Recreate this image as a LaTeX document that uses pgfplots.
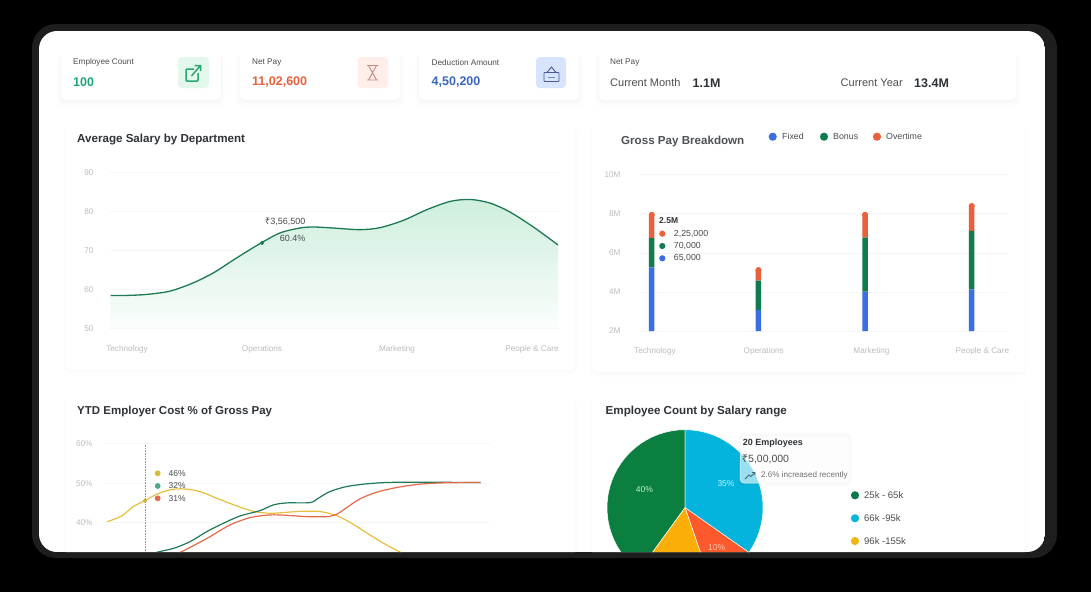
\documentclass[border=0pt]{standalone}
\usepackage{fontspec}
\setmainfont{Liberation Sans}
\newfontfamily\rup{Noto Sans}
\usepackage{pgfplots}
\usepackage{pgfplotstable}
\pgfplotsset{compat=1.18}
\definecolor{lab}{HTML}{BABCBE}
\definecolor{gridc}{HTML}{F4F5F5}
\definecolor{ttl}{HTML}{2F3337}
\definecolor{txt}{HTML}{4A4D50}
\definecolor{cRed}{HTML}{E9603C}
\definecolor{cGrn}{HTML}{0F7B4F}
\definecolor{cBlu}{HTML}{3B6FE0}
\definecolor{cYel}{HTML}{E8BE3C}
\definecolor{cLine}{HTML}{1E7A55}
\definecolor{kGrn}{HTML}{1FA574}
\definecolor{kBlu}{HTML}{3A68B8}
\definecolor{icA}{HTML}{E4F7EC}
\definecolor{icAs}{HTML}{2AA673}
\definecolor{icB}{HTML}{FFEEE9}
\definecolor{icBs}{HTML}{C98A7A}
\definecolor{icC}{HTML}{D8E4FB}
\definecolor{icCs}{HTML}{4A5A8F}
\definecolor{icCt}{HTML}{7C88B0}
\definecolor{arT}{HTML}{C6ECD8}
\definecolor{arB}{HTML}{FAFEFC}
\definecolor{rLine}{HTML}{E2694A}
\definecolor{d1}{HTML}{D9BC33}
\definecolor{d2}{HTML}{4FA88E}
\definecolor{pG}{HTML}{0A7F3F}
\definecolor{pC}{HTML}{04B4DC}
\definecolor{pR}{HTML}{FC5A2D}
\definecolor{pY}{HTML}{FCAE08}
\definecolor{tG}{HTML}{BDF2C8}
\definecolor{tC}{HTML}{BFF1FA}
\definecolor{tR}{HTML}{FFC4AE}
\definecolor{ttb}{HTML}{EEF0F2}
\definecolor{arr}{HTML}{3E6A75}
\definecolor{lG}{HTML}{0D7A4D}
\definecolor{lC}{HTML}{0AB5DC}
\definecolor{lY}{HTML}{F0B414}
\definecolor{frame}{HTML}{1E1E1E}
\newcommand{\fs}[1]{\fontsize{#1}{#1}\selectfont}
% KPI card: soft shadow, mostly below
\newcommand{\card}[4]{%
  \fill[black,opacity=.006,rounded corners=8] (#1-4,-#2-4) rectangle (#3+4,-#4-8);
  \fill[black,opacity=.008,rounded corners=7] (#1-2.5,-#2-4) rectangle (#3+2.5,-#4-5);
  \fill[black,opacity=.012,rounded corners=6] (#1-1,-#2-4) rectangle (#3+1,-#4-2.5);
  \fill[white,rounded corners=5] (#1,-#2) rectangle (#3,-#4);}
% big panel: even fainter
\newcommand{\panel}[4]{%
  \fill[black,opacity=.005,rounded corners=8] (#1-3,-#2-6) rectangle (#3+3,-#4-6);
  \fill[black,opacity=.007,rounded corners=7] (#1-1.5,-#2-6) rectangle (#3+1.5,-#4-3.5);
  \fill[black,opacity=.009,rounded corners=6] (#1-.5,-#2-6) rectangle (#3+.5,-#4-1.5);
  \fill[white,rounded corners=5] (#1,-#2) rectangle (#3,-#4);}
\newcommand{\txt}[5][west]{\node[anchor=#1,inner sep=0pt,text=#4] at (#2,-#3) {#5};}
\pgfplotstableread{
u v
-0.121 58.43
0.000 58.43
0.146 58.68
0.319 59.53
0.491 61.66
0.640 64.21
0.812 68.04
0.985 71.70
1.133 74.43
1.281 75.70
1.380 75.96
1.528 75.70
1.726 75.28
1.874 75.79
2.047 77.66
2.220 80.38
2.393 82.51
2.541 83.02
2.689 82.09
2.837 79.79
3.010 75.96
3.193 71.36
}\salary
\pgfplotsset{dash/.style={
  scale only axis, axis line style={draw=none}, major tick length=0pt,
  ymajorgrids=true, grid style={gridc,line width=.7pt},
  tick label style={text=lab,font=\fs{8.2}},
  /pgf/number format/assume math mode=true}}
\begin{document}
\begin{tikzpicture}[x=1pt,y=1pt]
\useasboundingbox (0,0) rectangle (1091,-592);
\fill[black] (0,0) rectangle (1091,-592);
\fill[frame,rounded corners=24] (32,-24) rectangle (1057,-558);
\begin{scope}
\clip[rounded corners=18] (39,-31) rectangle (1045,-552);
\fill[white] (39,-31) rectangle (1045,-552);
% panels
\panel{66}{118}{575}{370}
\panel{592}{120}{1025}{372}
\panel{66}{392}{575}{600}
\panel{592}{392}{1025}{600}
% KPI cards
\card{61}{49}{221}{100}
\card{240}{49}{400}{100}
\card{419}{49}{579}{100}
\card{599}{49}{1016}{100}
% card text
\txt{73}{62.5}{txt}{\fs{8.2}Employee Count}
\txt{73}{82.5}{kGrn}{\fs{12.5}\bfseries 100}
\txt{252}{62.5}{txt}{\fs{8.2}Net Pay}
\txt{252}{82.5}{cRed}{\fs{12.5}\bfseries 11,02,600}
\txt{431.5}{62.5}{txt}{\fs{8.2}Deduction Amount}
\txt{431.5}{82.5}{kBlu}{\fs{12.5}\bfseries 4,50,200}
\txt{610}{62.5}{txt}{\fs{8.2}Net Pay}
\txt{610}{83}{txt}{\fs{11}Current Month}
\txt{692.5}{83}{ttl}{\fs{12.5}\bfseries 1.1M}
\txt{840.5}{83}{txt}{\fs{11}Current Year}
\txt{914}{83}{ttl}{\fs{12.5}\bfseries 13.4M}
% icons
\fill[icA,rounded corners=4] (178,-57) rectangle (209,-88);
\draw[icAs,line width=1.5pt,rounded corners=1] (194,-69) -- (186,-69) -- (186,-81) -- (198,-81) -- (198,-73);
\draw[icAs,line width=1.5pt] (191.5,-76) -- (200.5,-65.5) (194.5,-65.5) -- (200.5,-65.5) -- (200.5,-71);
\fill[icB,rounded corners=4] (357.5,-57) rectangle (388,-88);
\draw[icBs,line width=.9pt] (367,-65.5) -- (378,-65.5) (367,-80) -- (378,-80) (368.5,-65.5) -- (376.5,-80) (376.5,-65.5) -- (368.5,-80);
\fill[icC,rounded corners=4] (536,-57) rectangle (566,-88);
\draw[icCs,line width=.9pt,rounded corners=.8] (544,-72.5) rectangle (559,-81.5);
\draw[icCs,line width=.9pt] (547,-72.5) -- (551.5,-67) -- (556,-72.5);
\draw[icCt,line width=.9pt] (548,-77) -- (555,-77);
% titles
\txt{77}{139.5}{ttl}{\fs{11.6}\bfseries Average Salary by Department}
\txt{621}{141}{ttl!85}{\fs{11.6}\bfseries Gross Pay Breakdown}
\txt{77}{411.5}{ttl}{\fs{11.5}\bfseries YTD Employer Cost \% of Gross Pay}
\txt{605.5}{411.5}{ttl}{\fs{11.6}\bfseries Employee Count by Salary range}
% --- Average salary
\begin{axis}[dash, at={(110pt,-328.3pt)}, anchor=south west, width=449pt, height=156.1pt,
  xmin=-0.126, xmax=3.2, ymin=50, ymax=90, ytick={50,60,70,80,90},
  xtick={0,1,2,3}, xticklabels={Technology,Operations,Marketing,People \& Care},
  yticklabel style={xshift=-13pt}, xticklabel style={yshift=-13.5pt}]
\addplot[draw=none, top color=arT, bottom color=arB, fill opacity=.85, smooth] table[x=u,y=v] {\salary} \closedcycle;
\addplot[cLine, line width=1.3pt, smooth] table[x=u,y=v] {\salary};
\addplot[only marks, mark=*, mark size=1.9pt, cLine] coordinates {(1.0,71.9)};
\end{axis}
\node[anchor=east,inner sep=0pt,text=txt] at (305.5,-222) {\fs{9}{\rup ₹}3,56,500};
\node[anchor=east,inner sep=0pt,text=txt] at (305.5,-238.7) {\fs{9}60.4\%};
% --- Gross pay
\begin{axis}[dash, at={(640pt,-331pt)}, anchor=south west, width=368pt, height=156.3pt,
  xmin=-0.11, xmax=3.34, ymin=2, ymax=10, ytick={2,4,6,8,10},
  yticklabel={\pgfmathprintnumber{\tick}M},
  xtick={0.03,1.05,2.06,3.10}, xticklabels={Technology,Operations,Marketing,People \& Care},
  yticklabel style={xshift=-16pt}, xticklabel style={yshift=-13.5pt},
  ybar stacked, bar width=5.5pt]
\addplot[fill=cBlu,draw=none] coordinates {(0,5.26) (1,3.08) (2,4.01) (3,4.13)};
\addplot[fill=cGrn,draw=none] coordinates {(0,1.50) (1,1.50) (2,2.77) (3,2.99)};
\addplot[fill=cRed,draw=none] coordinates {(0,1.19) (1,0.54) (2,1.17) (3,1.28)};
\end{axis}
\begin{axis}[at={(640pt,-331pt)}, anchor=south west, scale only axis, width=368pt, height=156.3pt,
  xmin=-0.11, xmax=3.34, ymin=2, ymax=10, hide axis]
\addplot[only marks, mark=*, mark size=2.75pt, cRed] coordinates {(0,7.95) (1,5.12) (2,7.95) (3,8.40)};
\end{axis}
% legend gross
\fill[cBlu] (772.7,-136.7) circle (4.1);
\txt{782}{136.7}{txt}{\fs{8.8}Fixed}
\fill[cGrn] (824,-136.7) circle (4.1);
\txt{833}{136.7}{txt}{\fs{8.8}Bonus}
\fill[cRed] (877,-136.7) circle (4.1);
\txt{886}{136.7}{txt}{\fs{8.8}Overtime}
\txt{659}{220.3}{ttl}{\fs{8.5}\bfseries 2.5M}
\fill[cRed] (662.3,-233.7) circle (3.1); \txt{673.7}{233.7}{txt}{\fs{8.8}2,25,000}
\fill[cGrn] (662.3,-246) circle (3.1); \txt{673.7}{246}{txt}{\fs{8.8}70,000}
\fill[cBlu] (662.3,-258.3) circle (3.1); \txt{673.7}{258.3}{txt}{\fs{8.8}65,000}
% --- YTD cost
\begin{axis}[dash, at={(105pt,-562.1pt)}, anchor=south west, width=385pt, height=118.4pt,
  xmin=105, xmax=490, ymin=30, ymax=60, ytick={40,50,60}, xtick=\empty,
  yticklabel={\pgfmathprintnumber{\tick}\%}, yticklabel style={xshift=-9pt}]
\addplot[cYel, line width=1.2pt, smooth] coordinates {(107.3,40.25) (121.7,41.69) (133.3,44.07) (145,45.59) (156.7,47.2) (170,48.31) (183.3,48.56) (200,47.88) (216.7,46.19) (236.7,44.24) (253.3,42.88) (270,42.37) (286.7,42.63) (303.3,42.88) (320,42.8) (336.7,41.78) (353.3,39.58) (370,36.86) (386.7,34.32) (400.7,32.46) (413.3,30.5)};
\addplot[cLine, line width=1.2pt, smooth] coordinates {(143.3,30.93) (156.7,32.46) (173.3,33.47) (190,35.17) (206.7,37.71) (223.3,39.83) (240,41.69) (260,43.05) (273.3,44.49) (286.7,45.0) (310,45.08) (318.3,46.19) (330,47.88) (346.7,49.15) (366.7,49.83) (386.7,50.17) (413.3,50.25) (480.7,50.17)};
\addplot[rLine, line width=1.2pt, smooth] coordinates {(163.3,30.93) (180,32.46) (193.3,34.15) (210,36.44) (230,39.41) (250,41.27) (270,41.95) (286.7,41.86) (306.7,41.53) (326.7,41.53) (336.7,42.12) (346.7,43.81) (360,46.02) (376.7,47.71) (396.7,48.9) (420,49.75) (443.3,50.08) (480.7,50.17)};
\addplot[only marks, mark=*, mark size=1.9pt, cYel!90!black] coordinates {(145,45.59)};
\addplot[black!40, densely dotted, line width=.6pt] coordinates {(145,30) (145,60)};
\end{axis}
\fill[d1] (157.7,-473.3) circle (2.9); \txt{168.5}{473.3}{txt}{\fs{8.5}46\%}
\fill[d2] (157.7,-486) circle (2.9); \txt{168.5}{486}{txt}{\fs{8.5}32\%}
\fill[rLine] (157.7,-498.3) circle (2.9); \txt{168.5}{498.3}{txt}{\fs{8.5}31\%}
% --- Pie
\begin{axis}[at={(607pt,-585.7pt)}, anchor=south west, scale only axis, width=156pt, height=156pt,
  xmin=-1, xmax=1, ymin=-1, ymax=1, hide axis]
\addplot[fill=pG, draw=white, line width=.5pt, data cs=polar] coordinates {(0,0) (90,1) (95,1) (100,1) (105,1) (110,1) (115,1) (120,1) (125,1) (130,1) (135,1) (140,1) (145,1) (150,1) (155,1) (160,1) (165,1) (170,1) (175,1) (180,1) (185,1) (190,1) (195,1) (200,1) (205,1) (210,1) (215,1) (220,1) (225,1) (230,1) (234,1) (0,0)};
\addplot[fill=pC, draw=white, line width=.5pt, data cs=polar] coordinates {(0,0) (90,1) (85,1) (80,1) (75,1) (70,1) (65,1) (60,1) (55,1) (50,1) (45,1) (40,1) (35,1) (30,1) (25,1) (20,1) (15,1) (10,1) (5,1) (0,1) (-5,1) (-10,1) (-15,1) (-20,1) (-25,1) (-30,1) (-35,1) (0,0)};
\addplot[fill=pR, draw=white, line width=.5pt, data cs=polar] coordinates {(0,0) (-35,1) (-40,1) (-45,1) (-50,1) (-55,1) (-60,1) (-65,1) (-71,1) (0,0)};
\addplot[fill=pY, draw=white, line width=.5pt, data cs=polar] coordinates {(0,0) (-71,1) (-75,1) (-80,1) (-85,1) (-90,1) (-95,1) (-100,1) (-105,1) (-110,1) (-115,1) (-120,1) (-126,1) (0,0)};
\end{axis}
\txt[center]{644.3}{490}{tG}{\fs{8.5}40\%}
\txt[center]{726}{484}{tC}{\fs{8.5}35\%}
\txt[center]{716.7}{547.3}{tR}{\fs{8.5}10\%}
% tooltip
\fill[black,opacity=.015,rounded corners=5] (738,-433) rectangle (852,-486);
\fill[white,opacity=.6,rounded corners=4] (740,-435) rectangle (850,-483);
\draw[ttb,line width=.5pt,rounded corners=4] (740,-435) rectangle (850,-483);
\txt{742.7}{443.3}{ttl}{\fs{9}\bfseries 20 Employees}
\node[anchor=west,inner sep=0pt,text=txt] at (742,-459.3) {\fs{10.5}{\rup ₹}5,00,000};
\txt{761}{475.3}{txt!80}{\fs{8.1}2.6\% increased recently}
\draw[arr,line width=.9pt] (745,-479) -- (749,-475) -- (751,-476.5) -- (755,-472.5) (752,-472.5) -- (755,-472.5) -- (755,-475.5);
% pie legend
\fill[lG] (855,-495.3) circle (4.1); \txt{864}{495.3}{txt}{\fs{9.5}25k - 65k}
\fill[lC] (855,-518.3) circle (4.1); \txt{864}{518.3}{txt}{\fs{9.5}66k -95k}
\fill[lY] (855,-541) circle (4.1); \txt{864}{541}{txt}{\fs{9.5}96k -155k}
\end{scope}
\end{tikzpicture}
\end{document}
